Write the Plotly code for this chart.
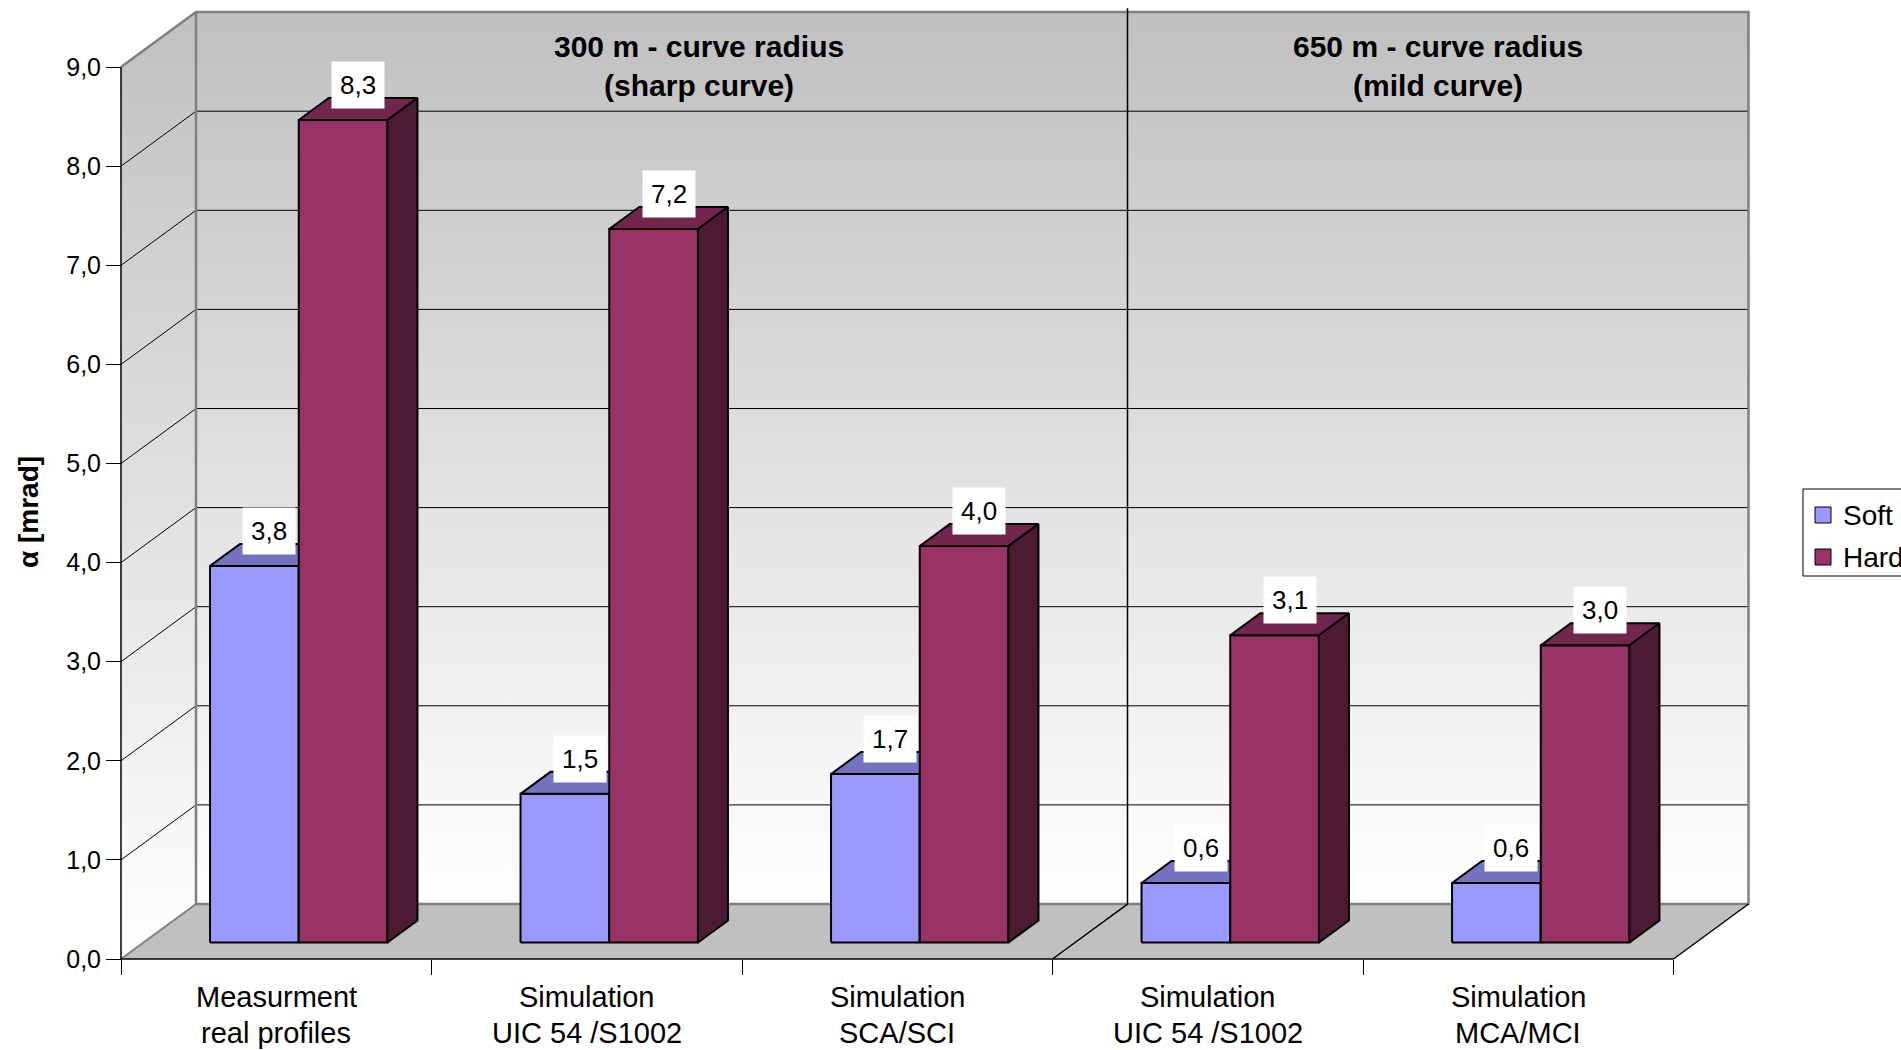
import plotly.graph_objects as go

# ---- data -------------------------------------------------------------
cat_line1 = ["Measurment", "Simulation", "Simulation", "Simulation", "Simulation"]
cat_line2 = ["real profiles", "UIC 54 /S1002", "SCA/SCI", "UIC 54 /S1002", "MCA/MCI"]
series_names = ["Soft", "Hard"]
soft = [3.8, 1.5, 1.7, 0.6, 0.6]
hard = [8.3, 7.2, 4.0, 3.1, 3.0]
y_ticks = [0, 1, 2, 3, 4, 5, 6, 7, 8, 9]
group_titles = ["300 m - curve radius<br>(sharp curve)", "650 m - curve radius<br>(mild curve)"]
group_title_x = [1.86, 4.24]
group_split = 3

# ---- geometry / style -------------------------------------------------
W, H = 1901, 1050
X0_PX, Y0_PX = 121, 959          # front-left corner of the floor
PX_PER_CAT, PX_PER_UNIT = 310.5, 99.1
DX = 75 / PX_PER_CAT             # oblique depth offset in axis units
DY = 55 / PX_PER_UNIT
N = len(cat_line1)
YMAX = y_ticks[-1]
F0, F1 = 0.3, 0.7                # bar front/back depth fractions
BW = 1 / 3.5                     # bar width (gap width 150 %)

FONT = "Liberation Sans, Arial, sans-serif"
colors = {
    "Soft": ("#9999ff", "#7373bf", "#4d4d80"),
    "Hard": ("#993366", "#73264d", "#4c1a33"),
}
WALL_GRAD = [[0, "#ffffff"], [1, "#c0c0c0"]]

fig = go.Figure()


def poly(xs, ys, fill=None, line_color="black", width=0, **kw):
    fig.add_trace(go.Scatter(
        x=xs, y=ys, mode="lines", fill="toself" if fill or kw.get("fillgradient") else None,
        fillcolor=fill, line=dict(color=line_color, width=width),
        hoverinfo="skip", showlegend=False, **kw))


def line(xs, ys, color="black", width=1):
    fig.add_trace(go.Scatter(x=xs, y=ys, mode="lines",
                             line=dict(color=color, width=width),
                             hoverinfo="skip", showlegend=False))


# walls and floor
poly([0, DX, DX, 0, 0], [0, DY, YMAX + DY, YMAX, 0],
     fillgradient=dict(type="vertical", colorscale=WALL_GRAD))
poly([DX, N + DX, N + DX, DX, DX], [DY, DY, YMAX + DY, YMAX + DY, DY],
     fillgradient=dict(type="vertical", colorscale=WALL_GRAD))
poly([0, N, N + DX, DX, 0], [0, 0, DY, DY, 0], fill="#c0c0c0")

# gridlines across side and back wall
gx, gy = [], []
for v in y_ticks[1:-1]:
    gx += [0, DX, N + DX, None]
    gy += [v, v + DY, v + DY, None]
line(gx, gy, "black", 1)

# wall and floor outlines
line([0, DX, N + DX, N + DX, DX, DX], [YMAX, YMAX + DY, YMAX + DY, DY, DY, YMAX + DY], "#808080", 2.5)
line([0, DX], [0, DY], "#808080", 2)
line([N, N + DX], [0, DY], "black", 1.5)

# divider between the two curve-radius groups
line([group_split + DX, group_split + DX, group_split],
     [YMAX + DY + 0.04, DY, 0], "black", 1.5)

# front axis lines
line([0, 0], [0, YMAX], "black", 1.5)
line([0, N], [0, 0], "black", 1.5)

# 3D bars
for i in range(N):
    for s, (name, vals) in enumerate(zip(series_names, [soft, hard])):
        v = vals[i]
        front, top, side = colors[name]
        xl = i + (0.75 + s) * BW
        xr = xl + BW
        a0x, a0y = F0 * DX, F0 * DY
        a1x, a1y = F1 * DX, F1 * DY
        poly([xl + a0x, xr + a0x, xr + a0x, xl + a0x, xl + a0x],
             [a0y, a0y, v + a0y, v + a0y, a0y], fill=front, width=2)
        poly([xl + a0x, xr + a0x, xr + a1x, xl + a1x, xl + a0x],
             [v + a0y, v + a0y, v + a1y, v + a1y, v + a0y], fill=top, width=2)
        poly([xr + a0x, xr + a1x, xr + a1x, xr + a0x, xr + a0x],
             [a0y, a1y, v + a1y, v + a0y, a0y], fill=side, width=2)
        fig.add_annotation(
            x=(xl + xr) / 2 + 0.5 * (F0 + F1) * DX, y=v + 0.5 * (F0 + F1) * DY,
            text=f"{v:.1f}".replace(".", ","), showarrow=False,
            xanchor="center", yanchor="bottom", bgcolor="white", borderpad=8,
            font=dict(family=FONT, size=26, color="black"))

# category labels (two lines each)
for i in range(N):
    for k, txt in enumerate([cat_line1[i], cat_line2[i]]):
        fig.add_annotation(
            x=i + 0.5, y=0, yref="y", text=txt, showarrow=False,
            xanchor="center", yanchor="middle", yshift=-(38 + 36 * k),
            font=dict(family=FONT, size=29, color="black"))

# group titles
for gx_, gt in zip(group_title_x, group_titles):
    fig.add_annotation(
        x=gx_, y=1 - 66 / H, yref="paper", text=f"<b>{gt}</b>", showarrow=False,
        xanchor="center", yanchor="middle",
        font=dict(family=FONT, size=30, color="black"))

# y axis title
fig.add_annotation(
    x=28 / W, y=1 - 512 / H, xref="paper", yref="paper", text="<b>α [mrad]</b>",
    showarrow=False, textangle=-90, xanchor="center", yanchor="middle",
    font=dict(family=FONT, size=28, color="black"))

# legend (box runs past the right edge of the page)
fig.add_shape(type="rect", xref="paper", yref="paper",
              x0=1803 / W, x1=1960 / W, y0=1 - 576 / H, y1=1 - 489 / H,
              line=dict(color="black", width=1), fillcolor="white")
for k, name in enumerate(series_names):
    cy = 515 + 42 * k
    fig.add_shape(type="rect", xref="paper", yref="paper",
                  x0=1815 / W, x1=1831 / W, y0=1 - (cy + 8) / H, y1=1 - (cy - 8) / H,
                  line=dict(color="black", width=1), fillcolor=colors[name][0])
    fig.add_annotation(x=1841 / W, y=1 - cy / H, xref="paper", yref="paper",
                       text=name, showarrow=False, xanchor="left", yanchor="middle",
                       font=dict(family=FONT, size=28, color="black"))

fig.update_layout(
    template="none",
    width=W, height=H,
    margin=dict(l=0, r=0, t=0, b=0, pad=0),
    paper_bgcolor="white", plot_bgcolor="white",
    separators=", ",
    showlegend=False,
    font=dict(family=FONT, color="black"),
    xaxis=dict(
        range=[-X0_PX / PX_PER_CAT, (W - X0_PX) / PX_PER_CAT],
        anchor="free", position=(H - Y0_PX) / H,
        tickvals=list(range(N + 1)), ticks="outside", ticklen=15,
        tickcolor="black", tickwidth=1, showticklabels=False,
        showgrid=False, zeroline=False, showline=False, automargin=False,
        fixedrange=True),
    yaxis=dict(
        range=[-(H - Y0_PX) / PX_PER_UNIT, Y0_PX / PX_PER_UNIT],
        anchor="free", position=X0_PX / W,
        tickvals=y_ticks, tickformat=".1f", ticks="outside", ticklen=15,
        tickcolor="black", tickwidth=1,
        tickfont=dict(family=FONT, size=25, color="black"),
        showgrid=False, zeroline=False, showline=False, automargin=False,
        fixedrange=True),
)

fig.write_html("out.html")
